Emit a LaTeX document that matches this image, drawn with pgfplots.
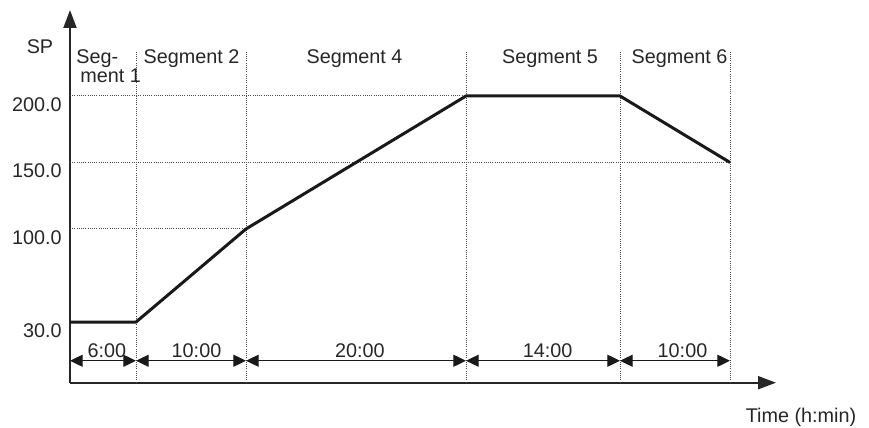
\documentclass[border=0pt]{standalone}
\usepackage{pgfplots}
\pgfplotsset{compat=1.18}
\usetikzlibrary{arrows.meta}
\usepackage{fontspec}
\setmainfont{Liberation Sans}
\begin{document}
\begin{tikzpicture}[font=\fontsize{9.9}{11.8}\selectfont, text=black!85]
\begin{axis}[
  at={(0,0)}, anchor=south west,
  scale only axis, width=353pt, height=186.35pt,
  xmin=0, xmax=64.18, ymin=-15.6, ymax=264.66,
  axis lines=left,
  axis line style={line width=1pt, draw=black!85, -{Triangle[length=9pt,width=6.5pt]}},
  xtick=\empty,
  ytick={30,100,150,200}, yticklabels={30.0,100.0,150.0,200.0},
  major tick length=0pt,
  yticklabel style={anchor=north east, inner sep=0pt, xshift=-4pt, yshift=-0.5pt},
  clip=false,
  /pgf/number format/assume math mode=true,
]
% dotted guide lines
\tikzset{guide/.style={line width=0.5pt, black!70, dash pattern=on 0.5pt off 0.6pt}}
\draw[guide] (axis cs:6,-15.6) -- (axis cs:6,233.1);
\draw[guide] (axis cs:16,-15.6) -- (axis cs:16,233.1);
\draw[guide] (axis cs:36,-15.6) -- (axis cs:36,233.1);
\draw[guide] (axis cs:50,-15.6) -- (axis cs:50,233.1);
\draw[guide] (axis cs:60,-15.6) -- (axis cs:60,233.1);
\draw[guide] (axis cs:0,200) -- (axis cs:50,200);
\draw[guide] (axis cs:0,150) -- (axis cs:60,150);
\draw[guide] (axis cs:0,100) -- (axis cs:16,100);
% setpoint profile
\addplot[line width=1.5pt, black!90, line join=round] coordinates {(0,30) (6,30) (16,100) (36,200) (50,200) (60,150)};
% duration arrows
\tikzset{dur/.style={line width=0.5pt, black!90, {Triangle[length=6.3pt,width=6pt]}-{Triangle[length=6.3pt,width=6pt]}}}
\draw[dur] (axis cs:0,0.9) -- (axis cs:6,0.9);
\draw[dur] (axis cs:6,0.9) -- (axis cs:16,0.9);
\draw[dur] (axis cs:16,0.9) -- (axis cs:36,0.9);
\draw[dur] (axis cs:36,0.9) -- (axis cs:50,0.9);
\draw[dur] (axis cs:50,0.9) -- (axis cs:60,0.9);
\node[anchor=base, inner sep=0pt] at (axis cs:3.36,3.7) {6:00};
\node[anchor=base, inner sep=0pt] at (axis cs:11.5,3.7) {10:00};
\node[anchor=base, inner sep=0pt] at (axis cs:26.36,3.7) {20:00};
\node[anchor=base, inner sep=0pt] at (axis cs:43.41,3.7) {14:00};
\node[anchor=base, inner sep=0pt] at (axis cs:55.68,3.7) {10:00};
% segment labels
\node[anchor=base west, inner sep=0pt] at (axis cs:0.55,224.8) {Seg-};
\node[anchor=base west, inner sep=0pt] at (axis cs:0.9,209.8) {ment 1};
\node[anchor=base, inner sep=0pt] at (axis cs:11.05,224.8) {Segment 2};
\node[anchor=base, inner sep=0pt] at (axis cs:25.86,224.8) {Segment 4};
\node[anchor=base, inner sep=0pt] at (axis cs:43.64,224.8) {Segment 5};
\node[anchor=base, inner sep=0pt] at (axis cs:55.41,224.8) {Segment 6};
% axis titles
\node[anchor=base, inner sep=0pt] at (axis cs:-2.73,232.3) {SP};
\node[anchor=base, inner sep=0pt] at (axis cs:66.45,-45.2) {Time (h:min)};
\end{axis}
\pgfresetboundingbox
\path[use as bounding box] (-35pt,-22.65pt) rectangle (399.5pt,191.35pt);
\end{tikzpicture}
\end{document}
